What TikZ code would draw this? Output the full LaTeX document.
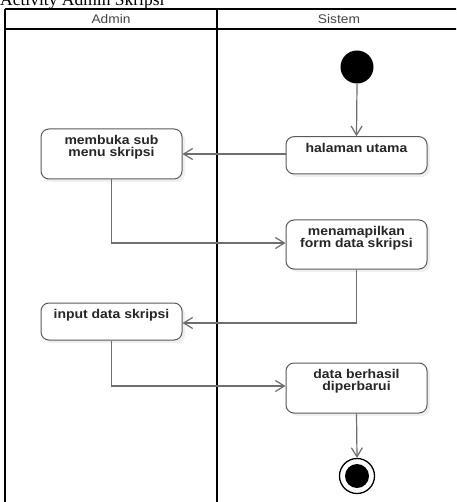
\documentclass[tikz,border=0pt]{standalone}
\usepackage{fontspec}
\setmainfont{Liberation Serif}
\newfontfamily\lbfont[FakeStretch=1.1]{Liberation Sans}
\usetikzlibrary{arrows.meta,shadows}
\definecolor{edgegray}{HTML}{6E6E6E}
\definecolor{boxgray}{HTML}{5A5A5A}
\definecolor{hdrtext}{HTML}{444444}
\tikzset{
 act/.style={draw=boxgray, line width=1pt, rounded corners=8pt, fill=white, minimum width=141pt, inner sep=0pt,
   drop shadow={shadow xshift=3pt,shadow yshift=-3pt,opacity=0.12}},
 acttxt/.style={anchor=north, inner sep=0pt, align=center, font=\lbfont\bfseries\fontsize{12.7}{12}\selectfont, text=black!85},
 flow/.style={draw=edgegray, line width=1.2pt, -{Straight Barb[length=9pt,width=11pt]}},
 lane/.style={draw=black, line width=1.8pt},
 hdr/.style={font=\lbfont\fontsize{12.5}{14}\selectfont, text=hdrtext, inner sep=0pt},
}
\begin{document}
\begin{tikzpicture}[x=1pt,y=-1pt]
\useasboundingbox (0,0) rectangle (456,502);
\clip (0,0) rectangle (456,502);
\fill[white] (0,0) rectangle (456,502);
% title (cut off at the top)
\node[anchor=base west, inner sep=0pt, font=\fontsize{17.5}{20}\selectfont] (title) at (0,6) {Activity Admin Skripsi};
% swimlane frame
\draw[lane] (5,9) -- (470,9);
\draw[lane] (5,29) -- (470,29);
\draw[lane] (5,9) -- (5,510);
\draw[lane] (217,9) -- (217,510);
\draw[lane] (461,9) -- (461,510);
\node[hdr] (hadmin) at (111,19) {Admin};
\node[hdr] (hsistem) at (339,19) {Sistem};
% start
\node[circle, fill=black, minimum size=33pt, inner sep=0pt] (start) at (357,67) {};
% activities
\node[act, minimum height=37.3pt] (hal) at (356.5,155.3) {};
\node[acttxt] (halT) at ([yshift=-6.6pt]hal.north) {halaman utama};
\node[act, minimum height=50pt] (mem) at (111.5,154) {};
\node[acttxt] (memT) at ([yshift=-7pt]mem.north) {membuka sub\\menu skripsi};
\node[act, minimum height=49pt] (men) at (356.5,244.5) {};
\node[acttxt] (menT) at ([yshift=-6.7pt]men.north) {menamapilkan\\form data skripsi};
\node[act, minimum height=37pt] (inp) at (111.5,321.5) {};
\node[acttxt] (inpT) at ([yshift=-6.5pt]inp.north) {input data skripsi};
\node[act, minimum height=50pt] (dat) at (356.5,388) {};
\node[acttxt] (datT) at ([yshift=-7pt]dat.north) {data berhasil\\diperbarui};
% end
\node[circle, draw=black, line width=1.3pt, fill=white, minimum size=35pt, inner sep=0pt] (end) at (357,476) {};
\fill[black] (end.center) circle[radius=12pt];
% flows
\draw[flow] (start.south) -- (hal.north);
\draw[flow] (hal.west |- mem.east) -- (mem.east);
\draw[flow] (mem.south) |- ([yshift=1.5pt]men.west);
\draw[flow] (men.south) |- ([yshift=-1.5pt]inp.east);
\draw[flow] (inp.south) |- ([yshift=2pt]dat.west);
\draw[flow] (dat.south) -- (end.north);
\end{tikzpicture}
\end{document}
